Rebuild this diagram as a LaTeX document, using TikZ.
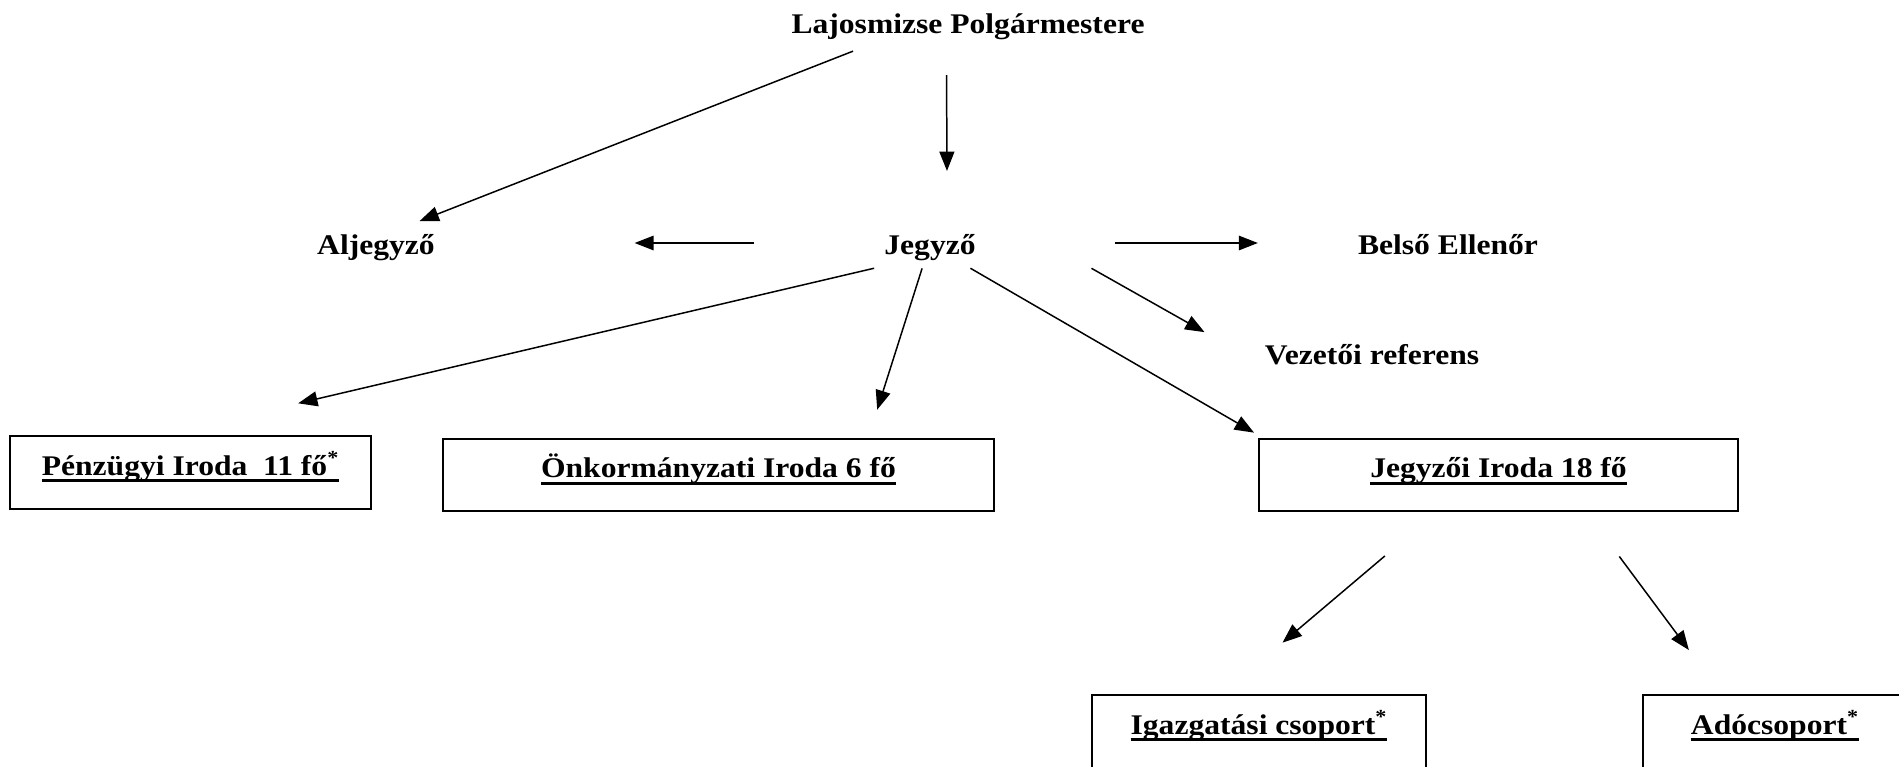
\documentclass[tikz,border=0pt]{standalone}
\usepackage{fontspec}
\setmainfont{Liberation Serif}[FakeStretch=1.11]
\usetikzlibrary{arrows.meta}
\newcommand{\ubar}[1]{\setbox0\hbox{#1}\rlap{\rule[-3.8pt]{\wd0}{1.8pt}}\box0}
\tikzset{
	lbl/.style={inner sep=0pt,text height=14pt,text depth=0.4pt,font=\fontsize{16.2}{19}\selectfont\bfseries},
	unit/.style={draw,line width=1.1pt,inner sep=0pt,minimum height=41.4pt,text height=12pt,text depth=8.6pt,font=\fontsize{16.2}{19}\selectfont\bfseries},
	arr/.style={line width=0.85pt,-{Triangle[length=11pt,width=8.5pt]}},
	heavy/.style={line width=1.7pt,-{Triangle[length=11pt,width=8pt]}}
}
\begin{document}
\begin{tikzpicture}[x=0.02cm,y=-0.02cm]
				\useasboundingbox (0,0) rectangle (1899,767);
				\clip (0,0) rectangle (1899,767);
				\node[lbl] (polg) at (968,22) {Lajosmizse Polgármestere};
				\node[lbl] (alj) at (376,243) {Aljegyző};
				\node[lbl] (jegyzo) at (930,243) {Jegyző};
				\node[lbl] (bel) at (1448,243) {Belső Ellenőr};
				\node[lbl] (vez) at (1372,353) {Vezetői referens};
				\node[unit,minimum width=205.8pt] (penz) at (190.5,472.5) {\ubar{Pénzügyi Iroda\ \ 11 fő\textsuperscript{*}}};
				\node[unit,minimum width=313.5pt] (onk) at (718.5,475) {\ubar{Önkormányzati Iroda 6 fő}};
				\node[unit,minimum width=272.7pt] (jir) at (1498.5,475) {\ubar{Jegyzői Iroda 18 fő}};
				\node[unit,minimum width=190.5pt] (igaz) at (1259,731.5) {\ubar{Igazgatási csoport\textsuperscript{*}}};
				\node[unit,minimum width=150.8pt] (ado) at (1775,731.5) {\ubar{Adócsoport\textsuperscript{*}}};
				\draw[arr,shorten <=25.2pt,shorten >=13.9pt] (polg.-170) -- (alj.32);
				\draw[arr,shorten <=22.8pt,shorten >=33.6pt] (polg.-149) -- (jegyzo.37);
				\draw[heavy,shorten <=74pt,shorten >=113.4pt] (jegyzo.west) -- (alj.east);
				\draw[heavy,shorten <=79.1pt,shorten >=56.7pt] (jegyzo.east) -- (bel.west);
				\draw[arr,shorten <=30.5pt,shorten >=79.4pt] (jegyzo.-106) -- (penz.127);
				\draw[arr,shorten <=7.4pt,shorten >=16.7pt] (jegyzo.-107) -- (onk.14);
				\draw[arr,shorten <=13.9pt,shorten >=5.7pt] (jegyzo.-34) -- (jir.171);
				\draw[arr,shorten >=39.2pt] ([shift={(115.5,12.3)}]jegyzo.south east) -- (vez.south west);
				\draw[arr,shorten <=38.4pt,shorten >=45.4pt] (jir.-149) -- (igaz.135);
				\draw[arr,shorten <=31.3pt,shorten >=31.3pt] (jir.-23) -- (ado.145);
			\end{tikzpicture}
\end{document}
